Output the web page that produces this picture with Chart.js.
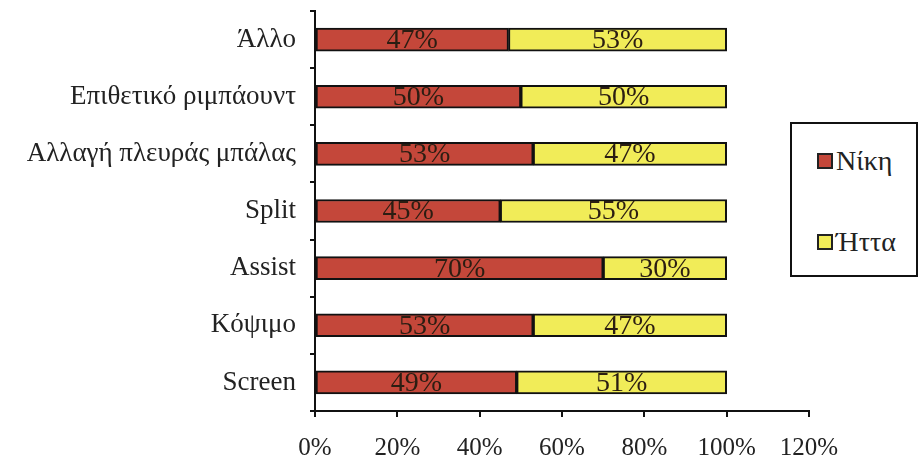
<!DOCTYPE html>
<html>
<head>
<meta charset="utf-8">
<script src="https://cdn.jsdelivr.net/npm/chart.js@4/dist/chart.umd.min.js"></script>
<style>
  body { margin: 0; background: #fff; }
  #wrap { position: relative; width: 921px; height: 462px; }
  #legend {
    position: absolute; left: 790px; top: 122px; width: 128px; height: 155px;
    border: 2px solid #111; box-sizing: border-box; background: #fff;
    font-family: "Liberation Serif", serif; font-size: 28px; color: #222;
  }
  .item { position: absolute; left: 25px; display: flex; align-items: center; line-height: 30px; }
  .sw { width: 12px; height: 12px; border: 2px solid #222; margin-right: 3px; }
</style>
</head>
<body>
<div id="wrap">
  <canvas id="chart" width="921" height="462"></canvas>
  <div id="legend"></div>
</div>
<script>
const categories = ['Άλλο', 'Επιθετικό ριμπάουντ', 'Αλλαγή πλευράς μπάλας', 'Split', 'Assist', 'Κόψιμο', 'Screen'];
const wins = [47, 50, 53, 45, 70, 53, 49];
const losses = [53, 50, 47, 55, 30, 47, 51];
const seriesNames = ['Νίκη', 'Ήττα'];
const seriesColors = ['#C4473A', '#F1EC58'];

const FONT = 'Liberation Serif';

// labels drawn in the middle of each segment
const segmentLabels = {
  id: 'segmentLabels',
  afterDatasetsDraw(chart) {
    const ctx = chart.ctx;
    ctx.save();
    ctx.font = '28px "' + FONT + '"';
    ctx.fillStyle = '#2b1d12';
    ctx.textAlign = 'center';
    ctx.textBaseline = 'middle';
    chart.data.datasets.forEach((ds, i) => {
      chart.getDatasetMeta(i).data.forEach((bar, j) => {
        ctx.fillText(ds.data[j] + '%', (bar.x + bar.base) / 2, bar.y + 1);
      });
    });
    ctx.restore();
  }
};

const chart = new Chart(document.getElementById('chart'), {
  type: 'bar',
  data: {
    labels: categories,
    datasets: [
      { label: seriesNames[0], data: wins, backgroundColor: seriesColors[0] },
      { label: seriesNames[1], data: losses, backgroundColor: seriesColors[1] }
    ]
  },
  options: {
    indexAxis: 'y',
    responsive: false,
    animation: false,
    layout: { padding: { left: 0, right: 112, top: 11, bottom: 0 } },
    datasets: {
      bar: {
        borderColor: '#111',
        borderWidth: 2,
        borderSkipped: false,
        barThickness: 23
      }
    },
    plugins: {
      legend: { display: false },
      tooltip: { enabled: false }
    },
    scales: {
      x: {
        stacked: true,
        min: 0,
        max: 120,
        ticks: {
          stepSize: 20,
          color: '#222',
          font: { family: FONT, size: 25 },
          padding: 16,
          callback: v => v + '%'
        },
        grid: { drawOnChartArea: false, drawTicks: true, tickLength: 6, color: '#111', lineWidth: 2 },
        border: { color: '#111', width: 2 },
        afterFit: s => { s.height = 51; }
      },
      y: {
        stacked: true,
        ticks: {
          color: '#222',
          font: { family: FONT, size: 27 },
          padding: 14
        },
        grid: { drawOnChartArea: false, drawTicks: true, tickLength: 5, color: '#111', lineWidth: 2, offset: true },
        border: { color: '#111', width: 2 },
        afterFit: s => { s.width = 315; s.paddingTop = 0; s.paddingBottom = 0; }
      }
    }
  },
  plugins: [segmentLabels]
});

// legend box on the right
const legend = document.getElementById('legend');
seriesNames.forEach((name, i) => {
  const item = document.createElement('div');
  item.className = 'item';
  item.style.top = (i === 0 ? 22 : 103) + 'px';
  item.innerHTML = '<span class="sw" style="background:' + seriesColors[i] + '"></span>' + name;
  legend.appendChild(item);
});
</script>
</body>
</html>
